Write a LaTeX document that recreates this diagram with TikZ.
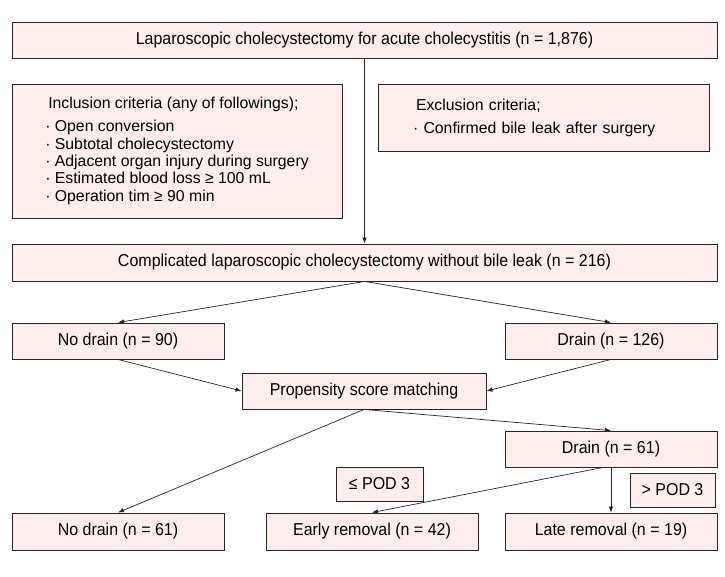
\documentclass[tikz,border=0pt]{standalone}
\usepackage{fontspec}
\setmainfont{Liberation Sans}
\newfontfamily\narrowfont[FakeStretch=0.93]{Liberation Sans}
\usepackage{tikz}
\usetikzlibrary{arrows.meta,positioning}

\definecolor{boxfill}{RGB}{253,238,237}
\definecolor{boxline}{RGB}{45,35,35}

\begin{document}
\begin{tikzpicture}[x=1pt,y=-1pt]
			\tikzstyle{Box}		= [rectangle, draw=boxline, fill=boxfill, line width=0.9pt, inner sep=0pt, minimum height=36pt, font=\narrowfont\fontsize{17.2}{19}\selectfont]
			\tikzstyle{List}	= [font=\fontsize{15.8}{17.4}\selectfont, align=left]
			\tikzstyle{Wide}	= [minimum width=705pt]
			\tikzstyle{Half}	= [minimum width=212pt]
			\tikzstyle{Small}	= [minimum height=34pt]
			\tikzstyle{Link}	= [line width=0.7pt, boxline, -{Latex[length=6pt,width=4.5pt]}]
			\useasboundingbox (0,0) rectangle (725,577);

			\node (top) at (364.5,40) [Box][Wide] {Laparoscopic cholecystectomy for acute cholecystitis (n = 1,876)};
			\node (incl) at (177,151) [Box][List][minimum width=330pt, minimum height=134pt] {\hspace*{3pt}Inclusion criteria (any of followings);\\[5.5pt]
				· Open conversion\\
				· Subtotal cholecystectomy\\
				· Adjacent organ injury during surgery\\
				· Estimated blood loss ≥ 100 mL\\
				· Operation tim ≥ 90 min};
			\node (excl) at (543.5,117.5) [Box][List][minimum height=67pt, inner xsep=35pt, text width=261pt] {\hspace*{3pt}Exclusion criteria;\\[5.5pt]
				· Confirmed bile leak after surgery};
			\node (comp) at (364.5,262.5) [Box][Wide][minimum height=37pt] {Complicated laparoscopic cholecystectomy without bile leak (n = 216)};
			\node (nd90) at (118,341) [Box][Half] {No drain (n = 90)};
			\node (d126) at (611,341) [Box][Half] {Drain (n = 126)};
			\node (psm) at (364,391) [Box][minimum width=244pt] {Propensity score matching};
			\node (d61) at (611,449) [Box][Half] {Drain (n = 61)};
			\node (le3) at (379.5,484) [Box][Small][minimum width=87pt] {≤ POD 3};
			\node (gt3) at (672.5,490) [Box][Small][minimum width=85pt] {> POD 3};
			\node (nd61) at (118,531.5) [Box][Half][minimum height=37pt] {No drain (n = 61)};
			\node (early) at (372,531.5) [Box][Half][minimum height=37pt] {Early removal (n = 42)};
			\node (late) at (611,531.5) [Box][Half][minimum height=37pt] {Late removal (n = 19)};

			\draw (top.south) to (comp.north) [Link];
			\draw (comp.south) to (nd90.north) [Link];
			\draw (comp.south) to (d126.north) [Link];
			\draw (nd90.south) to (psm.west) [Link];
			\draw (d126.south) to (psm.east) [Link];
			\draw (psm.south) to (nd61.north) [Link];
			\draw (psm.south) to (d61.north) [Link];
			\draw ([xshift=-8pt]d61.south) to (early.north) [Link];
			\draw (d61.south) to (late.north) [Link];
		\end{tikzpicture}
\end{document}
